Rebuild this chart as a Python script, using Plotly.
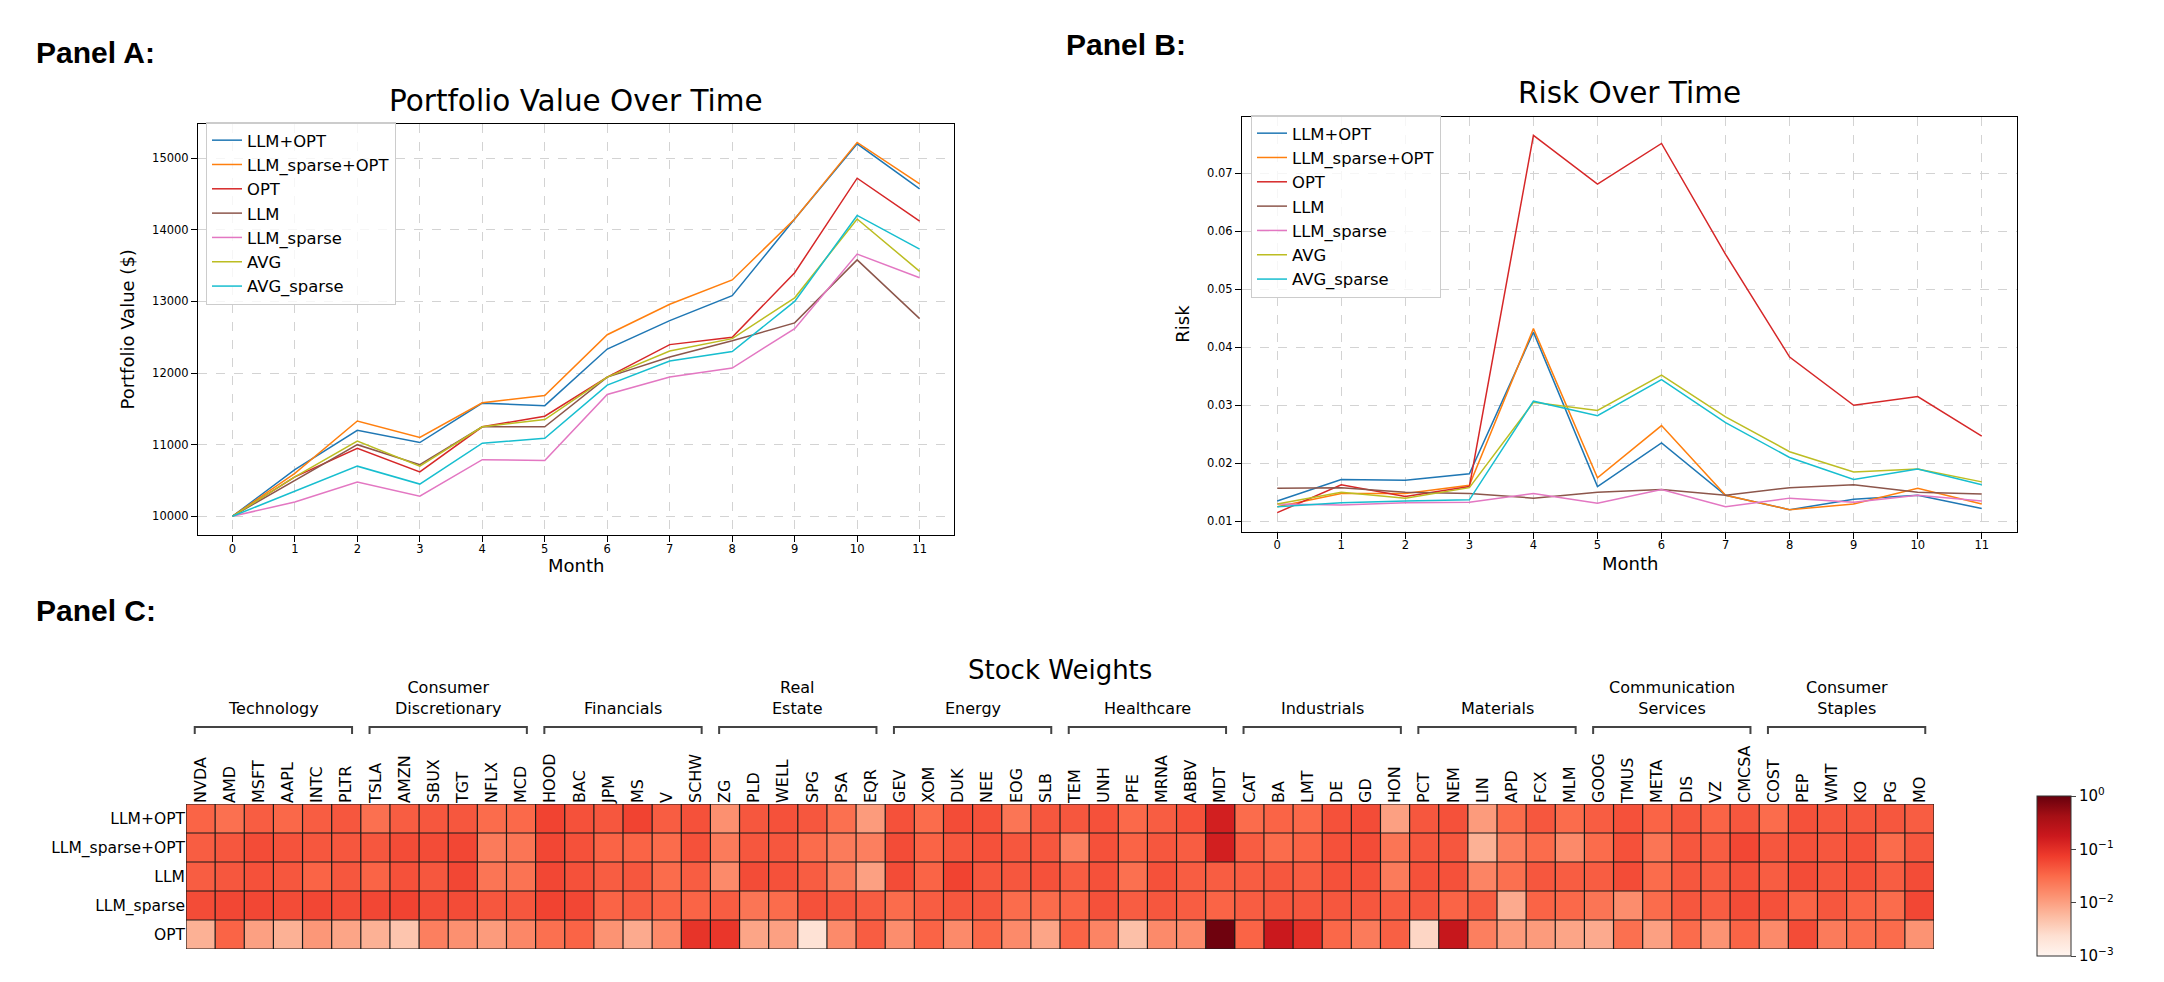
import numpy as np
import plotly.graph_objects as go

W, H = 2164, 982

# ---------------- data ----------------
months = list(range(12))
series_names = ["LLM+OPT", "LLM_sparse+OPT", "OPT", "LLM", "LLM_sparse", "AVG", "AVG_sparse"]
series_colors = ["#1f77b4", "#ff7f0e", "#d62728", "#8c564b", "#e377c2", "#bcbd22", "#17becf"]

value_llm_opt        = [10000, 10650, 11200, 11030, 11580, 11545, 12335, 12732, 13080, 14150, 15200, 14570]
value_llm_sparse_opt = [10000, 10600, 11330, 11100, 11584, 11687, 12535, 12960, 13300, 14150, 15220, 14640]
value_opt            = [10000, 10550, 10950, 10620, 11250, 11397, 11944, 12397, 12500, 13400, 14720, 14120]
value_llm            = [10000, 10500, 11000, 10720, 11250, 11250, 11944, 12224, 12450, 12700, 13580, 12760]
value_llm_sparse     = [10000, 10200, 10480, 10280, 10790, 10780, 11701, 11944, 12070, 12620, 13660, 13330]
value_avg            = [10000, 10550, 11050, 10700, 11250, 11350, 11944, 12308, 12480, 13050, 14150, 13420]
value_avg_sparse     = [10000, 10350, 10700, 10450, 11020, 11090, 11832, 12168, 12300, 13000, 14200, 13730]

risk_llm_opt        = [0.0135, 0.0172, 0.0171, 0.0182, 0.0426, 0.0160, 0.0235, 0.0145, 0.0120, 0.0138, 0.0145, 0.0122]
risk_llm_sparse_opt = [0.0125, 0.0148, 0.0148, 0.0162, 0.0432, 0.0175, 0.0265, 0.0145, 0.0120, 0.0130, 0.0157, 0.0130]
risk_opt            = [0.0115, 0.0163, 0.0143, 0.0160, 0.0765, 0.0681, 0.0751, 0.0560, 0.0383, 0.0300, 0.0315, 0.0247]
risk_llm            = [0.0157, 0.0158, 0.0150, 0.0148, 0.0140, 0.0150, 0.0155, 0.0145, 0.0158, 0.0163, 0.0150, 0.0147]
risk_llm_sparse     = [0.0130, 0.0128, 0.0132, 0.0133, 0.0148, 0.0131, 0.0155, 0.0125, 0.0140, 0.0133, 0.0145, 0.0135]
risk_avg            = [0.0130, 0.0150, 0.0140, 0.0158, 0.0305, 0.0291, 0.0352, 0.0280, 0.0220, 0.0185, 0.0190, 0.0168]
risk_avg_sparse     = [0.0125, 0.0132, 0.0135, 0.0137, 0.0307, 0.0282, 0.0344, 0.0270, 0.0210, 0.0172, 0.0190, 0.0163]

value_series = [value_llm_opt, value_llm_sparse_opt, value_opt, value_llm,
                value_llm_sparse, value_avg, value_avg_sparse]
risk_series = [risk_llm_opt, risk_llm_sparse_opt, risk_opt, risk_llm,
               risk_llm_sparse, risk_avg, risk_avg_sparse]

sectors = ["Technology", "Consumer<br>Discretionary", "Financials", "Real<br>Estate", "Energy",
           "Healthcare", "Industrials", "Materials", "Communication<br>Services", "Consumer<br>Staples"]
tickers = ["NVDA", "AMD", "MSFT", "AAPL", "INTC", "PLTR",
           "TSLA", "AMZN", "SBUX", "TGT", "NFLX", "MCD",
           "HOOD", "BAC", "JPM", "MS", "V", "SCHW",
           "ZG", "PLD", "WELL", "SPG", "PSA", "EQR",
           "GEV", "XOM", "DUK", "NEE", "EOG", "SLB",
           "TEM", "UNH", "PFE", "MRNA", "ABBV", "MDT",
           "CAT", "BA", "LMT", "DE", "GD", "HON",
           "PCT", "NEM", "LIN", "APD", "FCX", "MLM",
           "GOOG", "TMUS", "META", "DIS", "VZ", "CMCSA",
           "COST", "PEP", "WMT", "KO", "PG", "MO"]
strategies = ["LLM+OPT", "LLM_sparse+OPT", "LLM", "LLM_sparse", "OPT"]

w_llm_opt = [0.035, 0.028, 0.040, 0.033, 0.040, 0.045,
             0.028, 0.040, 0.045, 0.045, 0.030, 0.032,
             0.065, 0.050, 0.045, 0.065, 0.040, 0.050,
             0.014, 0.045, 0.050, 0.045, 0.028, 0.011,
             0.050, 0.030, 0.055, 0.050, 0.025, 0.045,
             0.045, 0.050, 0.032, 0.040, 0.050, 0.150,
             0.030, 0.035, 0.032, 0.050, 0.055, 0.010,
             0.045, 0.050, 0.011, 0.030, 0.045, 0.030,
             0.040, 0.050, 0.035, 0.045, 0.035, 0.045,
             0.030, 0.050, 0.045, 0.045, 0.045, 0.040]
w_llm_sparse_opt = [0.040, 0.045, 0.055, 0.048, 0.045, 0.045,
                    0.045, 0.055, 0.055, 0.060, 0.022, 0.025,
                    0.060, 0.050, 0.035, 0.035, 0.030, 0.050,
                    0.022, 0.045, 0.045, 0.030, 0.022, 0.020,
                    0.055, 0.035, 0.045, 0.050, 0.045, 0.045,
                    0.020, 0.050, 0.035, 0.045, 0.040, 0.150,
                    0.040, 0.030, 0.035, 0.050, 0.055, 0.025,
                    0.045, 0.045, 0.007, 0.020, 0.030, 0.016,
                    0.030, 0.050, 0.025, 0.045, 0.040, 0.060,
                    0.045, 0.050, 0.045, 0.050, 0.030, 0.045]
w_llm = [0.040, 0.045, 0.050, 0.045, 0.035, 0.045,
         0.035, 0.050, 0.045, 0.060, 0.025, 0.026,
         0.060, 0.050, 0.040, 0.045, 0.030, 0.040,
         0.016, 0.055, 0.050, 0.040, 0.022, 0.010,
         0.055, 0.035, 0.065, 0.045, 0.045, 0.050,
         0.040, 0.050, 0.028, 0.050, 0.040, 0.040,
         0.040, 0.045, 0.040, 0.050, 0.050, 0.022,
         0.050, 0.050, 0.018, 0.028, 0.045, 0.040,
         0.040, 0.055, 0.030, 0.045, 0.040, 0.050,
         0.040, 0.055, 0.045, 0.050, 0.040, 0.055]
w_llm_sparse = [0.055, 0.060, 0.060, 0.055, 0.060, 0.055,
                0.060, 0.065, 0.055, 0.055, 0.045, 0.045,
                0.065, 0.060, 0.035, 0.040, 0.035, 0.035,
                0.040, 0.025, 0.030, 0.050, 0.045, 0.040,
                0.030, 0.040, 0.045, 0.045, 0.030, 0.030,
                0.035, 0.050, 0.040, 0.045, 0.040, 0.035,
                0.040, 0.045, 0.045, 0.045, 0.045, 0.040,
                0.045, 0.035, 0.040, 0.008, 0.035, 0.032,
                0.025, 0.015, 0.030, 0.045, 0.040, 0.055,
                0.050, 0.035, 0.045, 0.035, 0.030, 0.060]
w_opt = [0.007, 0.035, 0.010, 0.007, 0.012, 0.009,
         0.007, 0.0045, 0.020, 0.014, 0.011, 0.017,
         0.028, 0.035, 0.013, 0.008, 0.016, 0.090,
         0.085, 0.009, 0.010, 0.0022, 0.016, 0.040,
         0.015, 0.035, 0.016, 0.033, 0.016, 0.009,
         0.035, 0.018, 0.005, 0.016, 0.016, 0.900,
         0.035, 0.180, 0.100, 0.033, 0.022, 0.038,
         0.003, 0.200, 0.020, 0.011, 0.011, 0.009,
         0.008, 0.028, 0.010, 0.030, 0.013, 0.035,
         0.016, 0.055, 0.022, 0.028, 0.030, 0.013]
weights = [w_llm_opt, w_llm_sparse_opt, w_llm, w_llm_sparse, w_opt]

cbar_tickvals = [-3, -2, -1, 0]
cbar_ticktext = ["10<sup>\u22123</sup>", "10<sup>\u22122</sup>", "10<sup>\u22121</sup>", "10<sup>0</sup>"]

# ---------------- helpers ----------------
def px_x(p):
    return p / W

def px_y(p):
    return 1 - p / H

FONT = "DejaVu Sans"

def padded(vals, frac=0.05):
    lo, hi = min(vals), max(vals)
    d = (hi - lo) * frac
    return [lo - d, hi + d]

fig = go.Figure()

for name, col, vals in zip(series_names, series_colors, value_series):
    fig.add_trace(go.Scatter(x=months, y=vals, mode="lines", name=name,
                             line=dict(color=col, width=1.5),
                             xaxis="x", yaxis="y", legend="legend"))
for name, col, vals in zip(series_names, series_colors, risk_series):
    fig.add_trace(go.Scatter(x=months, y=vals, mode="lines", name=name,
                             line=dict(color=col, width=1.5),
                             xaxis="x2", yaxis="y2", legend="legend2"))

z = np.log10(np.array(weights))
reds = [[0.0, "#fff5f0"], [0.125, "#fee0d2"], [0.25, "#fcbba1"], [0.375, "#fc9272"],
        [0.5, "#fb6a4a"], [0.625, "#ef3b2c"], [0.75, "#cb181d"], [0.875, "#a50f15"],
        [1.0, "#67000d"]]
ncol = len(tickers)
nrow = len(strategies)
fig.add_trace(go.Heatmap(
    z=z, x=list(range(ncol)), y=list(range(nrow)),
    customdata=np.array(weights), hovertemplate="%{customdata:.4f}<extra></extra>",
    colorscale=reds, zmin=-3, zmax=0, xaxis="x3", yaxis="y3",
    colorbar=dict(x=px_x(2029), xanchor="left", y=px_y(788), yanchor="top",
                  len=160, lenmode="pixels", thickness=34, thicknessmode="pixels",
                  tickvals=cbar_tickvals, ticktext=cbar_ticktext, ticks="outside",
                  ticklen=5, tickfont=dict(family=FONT, size=15, color="black"),
                  outlinewidth=1, outlinecolor="#333333", xpad=0, ypad=0),
))

months_range = padded(months)

axis_common = dict(showline=True, mirror=True, linecolor="black", linewidth=1,
                   ticks="outside", ticklen=6, tickcolor="black",
                   showgrid=True, gridcolor="#d3d3d3", griddash="dash", gridwidth=0.8,
                   zeroline=False, tickfont=dict(family=FONT, size=11.5, color="black"))

all_vals = sum(value_series, [])
all_risk = sum(risk_series, [])

layout = dict(
    width=W, height=H, margin=dict(l=0, r=0, t=0, b=0),
    paper_bgcolor="white", plot_bgcolor="white",
    font=dict(family=FONT, color="black"),
    showlegend=True,
    xaxis=dict(domain=[px_x(190), px_x(946)], range=months_range, tickvals=months,
               ticklabelstandoff=-3, anchor="y", **axis_common),
    yaxis=dict(domain=[px_y(527), px_y(115.7)], range=padded(all_vals),
               tickvals=[10000, 11000, 12000, 13000, 14000, 15000], tickformat="d",
               title=dict(text="Portfolio Value ($)", font=dict(size=18), standoff=12), anchor="x", **axis_common),
    xaxis2=dict(domain=[px_x(1234), px_x(2009)], range=months_range, tickvals=months,
                ticklabelstandoff=-3, anchor="y2", **axis_common),
    yaxis2=dict(domain=[px_y(523.5), px_y(108.5)], range=padded(all_risk),
                tickvals=[0.01, 0.02, 0.03, 0.04, 0.05, 0.06, 0.07], tickformat=".2f",
                title=dict(text="Risk", font=dict(size=18), standoff=12), anchor="x2", **axis_common),
    xaxis3=dict(domain=[px_x(178), px_x(1926)], range=[-0.5, ncol - 0.5], side="top",
                tickvals=list(range(ncol)), ticktext=tickers, tickangle=-90,
                showgrid=False, zeroline=False, ticks="",
                tickfont=dict(family=FONT, size=16, color="black"), anchor="y3"),
    yaxis3=dict(domain=[px_y(941), px_y(796)], range=[nrow - 0.5, -0.5],
                tickvals=list(range(nrow)), ticktext=strategies,
                showgrid=False, zeroline=False, ticks="",
                tickfont=dict(family=FONT, size=15.5, color="black"), anchor="x3"),
    legend=dict(x=px_x(198), y=px_y(114), xanchor="left", yanchor="top",
                bgcolor="rgba(255,255,255,0.8)", bordercolor="#cccccc", borderwidth=1,
                font=dict(family=FONT, size=16.4, color="black"), tracegroupgap=0),
    legend2=dict(x=px_x(1243), y=px_y(107), xanchor="left", yanchor="top",
                 bgcolor="rgba(255,255,255,0.8)", bordercolor="#cccccc", borderwidth=1,
                 font=dict(family=FONT, size=16.4, color="black"), tracegroupgap=0),
)
fig.update_layout(**layout)

shapes = []
# cell borders
for i in range(ncol + 1):
    shapes.append(dict(type="line", xref="x3", yref="y3", x0=i - 0.5, x1=i - 0.5,
                       y0=-0.5, y1=nrow - 0.5, line=dict(color="#1a1a1a", width=1.2)))
for j in range(nrow + 1):
    shapes.append(dict(type="line", xref="x3", yref="y3", x0=-0.5, x1=ncol - 0.5,
                       y0=j - 0.5, y1=j - 0.5, line=dict(color="#1a1a1a", width=1.2)))
# sector brackets
per = ncol // len(sectors)
annotations = []
for g, sname in enumerate(sectors):
    x0 = g * per - 0.5 + 0.3
    x1 = (g + 1) * per - 0.5 - 0.3
    yt = px_y(719)
    yb = px_y(726)
    shapes.append(dict(type="path", xref="x3", yref="paper",
                       path=f"M {x0},{yb} L {x0},{yt} L {x1},{yt} L {x1},{yb}",
                       line=dict(color="#444444", width=2)))
    annotations.append(dict(text=sname, xref="x3", yref="paper", x=g * per + (per - 1) / 2,
                            y=px_y(712), xanchor="center", yanchor="bottom", showarrow=False,
                            align="center", font=dict(family=FONT, size=16, color="black")))

# titles and labels
annotations += [
    dict(text="Portfolio Value Over Time", xref="paper", yref="paper", x=px_x(568), y=px_y(93),
         xanchor="center", yanchor="middle", showarrow=False, font=dict(family=FONT, size=29.5)),
    dict(text="Risk Over Time", xref="paper", yref="paper", x=px_x(1621.5), y=px_y(85),
         xanchor="center", yanchor="middle", showarrow=False, font=dict(family=FONT, size=29.5)),
    dict(text="Stock Weights", xref="paper", yref="paper", x=px_x(1052), y=px_y(662),
         xanchor="center", yanchor="middle", showarrow=False, font=dict(family=FONT, size=26)),
    dict(text="Month", xref="paper", yref="paper", x=px_x(568), y=px_y(557),
         xanchor="center", yanchor="middle", showarrow=False, font=dict(family=FONT, size=18)),
    dict(text="Month", xref="paper", yref="paper", x=px_x(1621.5), y=px_y(555),
         xanchor="center", yanchor="middle", showarrow=False, font=dict(family=FONT, size=18)),
    dict(text="<b>Panel A:</b>", xref="paper", yref="paper", x=px_x(26), y=px_y(44),
         xanchor="left", yanchor="middle", showarrow=False,
         font=dict(family="Liberation Sans", size=30, color="black")),
    dict(text="<b>Panel B:</b>", xref="paper", yref="paper", x=px_x(1056), y=px_y(37),
         xanchor="left", yanchor="middle", showarrow=False,
         font=dict(family="Liberation Sans", size=30, color="black")),
    dict(text="<b>Panel C:</b>", xref="paper", yref="paper", x=px_x(26), y=px_y(602),
         xanchor="left", yanchor="middle", showarrow=False,
         font=dict(family="Liberation Sans", size=30, color="black")),
]
fig.update_layout(shapes=shapes, annotations=annotations)

fig.write_html("out.html")
